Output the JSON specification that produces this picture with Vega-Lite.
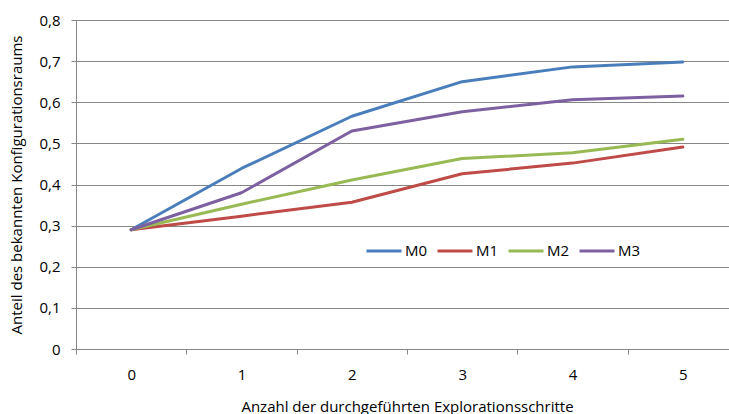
{
  "$schema": "https://vega.github.io/schema/vega-lite/v6.json",
  "autosize": "none",
  "padding": {"left": 76, "top": 20, "right": 0, "bottom": 65},
  "width": 662,
  "height": 329,
  "background": "white",
  "config": {
    "font": "Open Sans",
    "view": {"stroke": null}
  },
  "data": {
    "values": [
      {"schritt": "0", "serie": "M0", "anteil": 0.29},
      {"schritt": "1", "serie": "M0", "anteil": 0.439},
      {"schritt": "2", "serie": "M0", "anteil": 0.566},
      {"schritt": "3", "serie": "M0", "anteil": 0.65},
      {"schritt": "4", "serie": "M0", "anteil": 0.686},
      {"schritt": "5", "serie": "M0", "anteil": 0.698},
      {"schritt": "0", "serie": "M1", "anteil": 0.29},
      {"schritt": "1", "serie": "M1", "anteil": 0.323},
      {"schritt": "2", "serie": "M1", "anteil": 0.357},
      {"schritt": "3", "serie": "M1", "anteil": 0.426},
      {"schritt": "4", "serie": "M1", "anteil": 0.452},
      {"schritt": "5", "serie": "M1", "anteil": 0.491},
      {"schritt": "0", "serie": "M2", "anteil": 0.29},
      {"schritt": "1", "serie": "M2", "anteil": 0.352},
      {"schritt": "2", "serie": "M2", "anteil": 0.411},
      {"schritt": "3", "serie": "M2", "anteil": 0.463},
      {"schritt": "4", "serie": "M2", "anteil": 0.477},
      {"schritt": "5", "serie": "M2", "anteil": 0.51},
      {"schritt": "0", "serie": "M3", "anteil": 0.29},
      {"schritt": "1", "serie": "M3", "anteil": 0.38},
      {"schritt": "2", "serie": "M3", "anteil": 0.53},
      {"schritt": "3", "serie": "M3", "anteil": 0.577},
      {"schritt": "4", "serie": "M3", "anteil": 0.606},
      {"schritt": "5", "serie": "M3", "anteil": 0.615}
    ]
  },
  "mark": {"type": "line", "strokeWidth": 3, "strokeCap": "round", "strokeJoin": "round"},
  "encoding": {
    "x": {
      "field": "schritt",
      "type": "ordinal",
      "bandPosition": 0.5,
      "scale": {"type": "band", "paddingInner": 0, "paddingOuter": 0},
      "axis": {
        "title": "Anzahl der durchgeführten Explorationsschritte",
        "titleFont": "Open Sans",
        "titleFontSize": 15,
        "titleFontWeight": "normal",
        "titleColor": "#000000",
        "titlePadding": 17,
        "labelAngle": 0,
        "labelFontSize": 15,
        "labelColor": "#000000",
        "labelPadding": 13,
        "tickBand": "extent",
        "tickSize": 5,
        "tickColor": "#868686",
        "domainColor": "#868686",
        "grid": false
      }
    },
    "y": {
      "field": "anteil",
      "type": "quantitative",
      "scale": {"domain": [0, 0.8], "nice": false},
      "axis": {
        "title": "Anteil des bekannten Konfigurationsraums",
        "titleFont": "Open Sans",
        "titleFontSize": 15,
        "titleFontWeight": "normal",
        "titleColor": "#000000",
        "titlePadding": 14,
        "values": [0, 0.1, 0.2, 0.3, 0.4, 0.5, 0.6, 0.7, 0.8],
        "labelExpr": "datum.value == 0 ? '0' : replace(format(datum.value, '.1f'), '.', ',')",
        "labelFontSize": 15,
        "labelColor": "#000000",
        "labelPadding": 11,
        "tickSize": 5,
        "tickColor": "#868686",
        "domainColor": "#868686",
        "grid": true,
        "gridColor": "#868686",
        "gridWidth": 1
      }
    },
    "color": {
      "field": "serie",
      "type": "nominal",
      "scale": {"domain": ["M0", "M1", "M2", "M3"], "range": ["#4A7EBB", "#BE4B48", "#98B954", "#7D60A0"]},
      "legend": {
        "title": null,
        "orient": "none",
        "direction": "horizontal",
        "legendX": 289,
        "legendY": 212,
        "symbolType": "stroke",
        "symbolSize": 1225,
        "symbolStrokeWidth": 3,
        "labelFontSize": 15,
        "labelColor": "#000000",
        "labelOffset": 2,
        "columnPadding": 3
      }
    }
  }
}
